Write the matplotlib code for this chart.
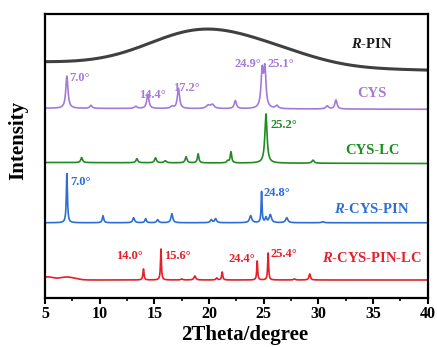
"""XRD patterns of R-PIN, CYS and their co-crystal / LC forms, stacked with offsets."""

import matplotlib

matplotlib.use("Agg")
import matplotlib.pyplot as plt
import numpy as np
from matplotlib.ticker import MultipleLocator

plt.rcParams["font.family"] = "Liberation Serif"
plt.rcParams["font.weight"] = "bold"
plt.rcParams["mathtext.fontset"] = "custom"
plt.rcParams["mathtext.it"] = "Liberation Serif:italic:bold"
plt.rcParams["mathtext.rm"] = "Liberation Serif:bold"

# ── peak tables: (2theta, height, half-width) ─────────────────────────────
rpin_base = (235, 227)
rpin_hump = [(19.3, 34, 4.8), (26.5, 10, 4.0)]

cys_base = (189, 188)
cys_peaks = [
    (7.0, 32, 0.12), (9.2, 3, 0.12), (13.3, 2, 0.15), (14.4, 14, 0.12),
    (16.6, 2, 0.15), (17.2, 20, 0.12), (19.9, 3, 0.2), (20.3, 4, 0.2),
    (22.4, 8, 0.12), (24.85, 36, 0.12), (25.1, 38, 0.12), (26.2, 3, 0.15),
    (30.8, 3, 0.15), (31.6, 9, 0.12),
]

cyslc_base = (135, 134)
cyslc_peaks = [
    (8.35, 5, 0.1), (13.4, 4, 0.1), (15.1, 5, 0.1), (16.0, 2, 0.12),
    (17.9, 6, 0.1), (19.0, 9, 0.08), (21.7, 2, 0.1), (22.0, 11, 0.08),
    (25.2, 49, 0.12), (29.5, 3, 0.12),
]

rcyspin_base = (75, 75)
rcyspin_peaks = [
    (7.0, 49, 0.06), (10.3, 7, 0.08), (13.1, 5, 0.1), (14.2, 4, 0.08),
    (15.3, 3, 0.1), (16.6, 9, 0.1), (20.2, 3, 0.1), (20.6, 4, 0.1),
    (23.8, 7, 0.12), (24.8, 31, 0.05), (25.2, 5, 0.08), (25.6, 8, 0.12),
    (27.1, 5, 0.12), (30.4, 1, 0.12),
]

rcyspinlc_base = (18, 18)
rcyspinlc_hump = [(5.2, 3, 0.5), (7.0, 3, 0.7)]
rcyspinlc_peaks = [
    (14.0, 11, 0.06), (15.6, 31, 0.05), (17.5, 1, 0.1), (18.7, 4, 0.1),
    (20.7, 2, 0.08), (21.2, 8, 0.06), (24.4, 19, 0.05), (25.4, 27, 0.05),
    (27.8, 1, 0.1), (29.2, 6, 0.08),
]

# ── labels ────────────────────────────────────────────────────────────────
names = ["$R$-PIN", "CYS", "CYS-LC", "$R$-CYS-PIN", "$R$-CYS-PIN-LC"]
colors = ["#404040", "#a47ad9", "#1e8c1e", "#2b6fd6", "#e3202a"]
name_colors = ["#1a1a1a", "#a47ad9", "#1e8c1e", "#2b6fd6", "#e3202a"]
name_pos = [(34.9, 253), (34.9, 204), (34.9, 147), (34.9, 89), (34.9, 40)]

peak_labels = [
    (1, "7.0°", 7.2, 219, "left"),
    (1, "14.4°", 14.85, 202, "center"),
    (1, "17.2°", 17.95, 209, "center"),
    (1, "24.9°", 24.75, 233, "right"),
    (1, "25.1°", 25.35, 233, "left"),
    (2, "25.2°", 25.6, 172, "left"),
    (3, "7.0°", 7.3, 116, "left"),
    (3, "24.8°", 25.0, 105, "left"),
    (4, "14.0°", 13.9, 42, "right"),
    (4, "15.6°", 15.9, 42, "left"),
    (4, "24.4°", 24.2, 39, "right"),
    (4, "25.4°", 25.6, 44, "left"),
]

x = np.linspace(5, 40, 3500)


def baseline(base):
    return base[0] + (base[1] - base[0]) * (x - 5) / 35


def gauss(comps):
    y = np.zeros_like(x)
    for c, a, s in comps:
        y += a * np.exp(-0.5 * ((x - c) / s) ** 2)
    return y


def lorentz(peaks):
    y = np.zeros_like(x)
    for c, a, w in peaks:
        y += a / (1 + ((x - c) / w) ** 2)
    return y


curves = [
    baseline(rpin_base) + gauss(rpin_hump),
    baseline(cys_base) + lorentz(cys_peaks),
    baseline(cyslc_base) + lorentz(cyslc_peaks),
    baseline(rcyspin_base) + lorentz(rcyspin_peaks),
    baseline(rcyspinlc_base) + gauss(rcyspinlc_hump) + lorentz(rcyspinlc_peaks),
]
widths = [2.2, 1.2, 1.2, 1.2, 1.2]

fig = plt.figure(figsize=(4.37, 3.47), dpi=100)
ax = fig.add_axes([0.103, 0.141, 0.876, 0.819])

for y, c, lw in zip(curves, colors, widths):
    ax.plot(x, y, color=c, linewidth=lw)

for name, col, (px, py) in zip(names, name_colors, name_pos):
    ax.text(px, py, name, color=col, fontsize=10.5, fontweight="bold",
            ha="center", va="center")

for idx, txt, px, py, ha in peak_labels:
    ax.text(px, py, txt, color=colors[idx], fontsize=9,
            fontweight="bold", ha=ha, va="center")

ax.set_xlim(5, 40)
ax.set_ylim(0, 283)
ax.set_xticks(np.arange(5, 41, 5))
ax.xaxis.set_minor_locator(MultipleLocator(2.5))
ax.set_yticks([])
ax.tick_params(axis="x", which="major", direction="out", length=4, width=1.5,
               labelsize=11.5, pad=2)
ax.tick_params(axis="x", which="minor", direction="out", length=2, width=1.2)
for lab in ax.get_xticklabels():
    lab.set_fontweight("bold")
for sp in ax.spines.values():
    sp.set_linewidth(1.6)

ax.set_xlabel("2Theta/degree", fontsize=15, fontweight="bold")
ax.xaxis.set_label_coords(0.522, -0.095)
ax.set_ylabel("Intensity", fontsize=15, fontweight="bold")
ax.yaxis.set_label_coords(-0.045, 0.555)

fig.savefig("out.png", dpi=100)
